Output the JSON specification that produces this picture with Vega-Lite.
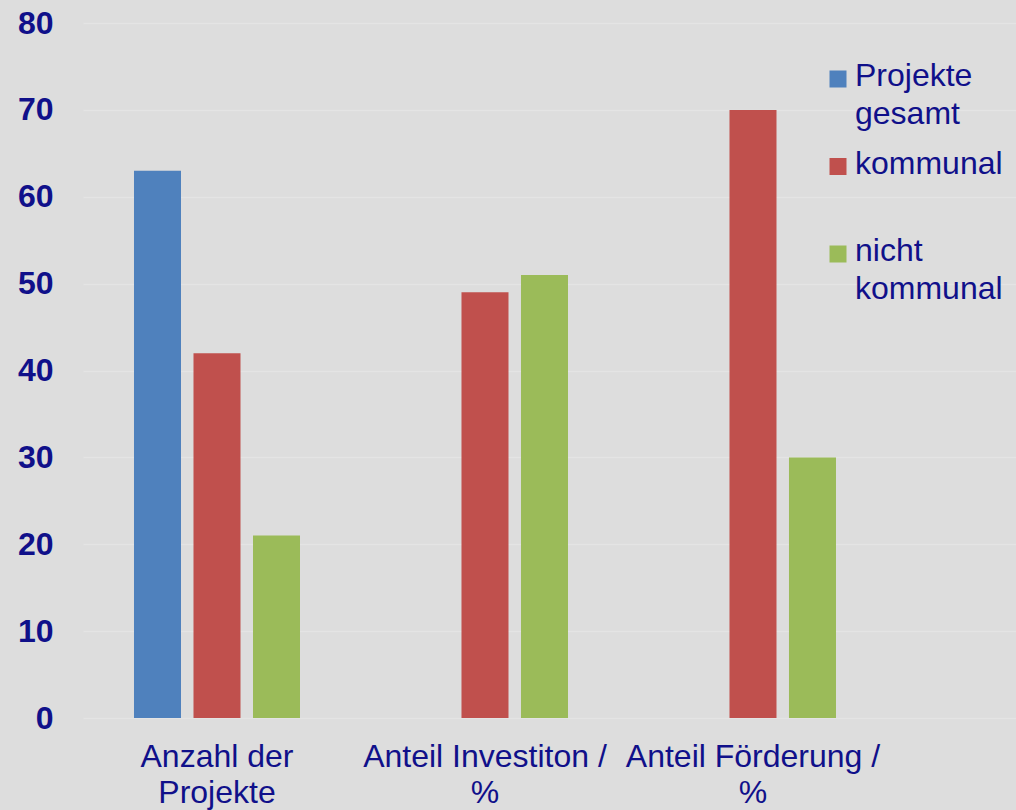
{
  "$schema": "https://vega.github.io/schema/vega-lite/v6.json",
  "width": 933,
  "height": 695,
  "autosize": {"type": "none"},
  "padding": {"left": 83, "top": 23, "right": 0, "bottom": 92},
  "background": "#dddddd",
  "config": {"view": {"stroke": null}, "font": "Liberation Sans"},
  "data": {
    "values": [
      {"kategorie": "Anzahl der|Projekte", "serie": "Projekte gesamt", "wert": 63},
      {"kategorie": "Anzahl der|Projekte", "serie": "kommunal", "wert": 42},
      {"kategorie": "Anzahl der|Projekte", "serie": "nicht kommunal", "wert": 21},
      {"kategorie": "Anteil Investiton /|%", "serie": "kommunal", "wert": 49},
      {"kategorie": "Anteil Investiton /|%", "serie": "nicht kommunal", "wert": 51},
      {"kategorie": "Anteil Förderung /|%", "serie": "kommunal", "wert": 70},
      {"kategorie": "Anteil Förderung /|%", "serie": "nicht kommunal", "wert": 30}
    ]
  },
  "mark": {"type": "bar"},
  "encoding": {
    "x": {
      "field": "kategorie",
      "type": "nominal",
      "sort": null,
      "scale": {"paddingInner": 0, "paddingOuter": 0.2407, "align": 0},
      "axis": {
        "title": null,
        "labelExpr": "split(datum.label, '|')",
        "labelAngle": 0,
        "labelFontSize": 32,
        "labelColor": "#10108a",
        "labelPadding": 23,
        "labelLineHeight": 36,
        "labelOverlap": false,
        "labelLimit": 400,
        "domain": false,
        "ticks": false,
        "grid": false
      }
    },
    "xOffset": {
      "field": "serie",
      "type": "nominal",
      "sort": ["Projekte gesamt", "kommunal", "nicht kommunal"],
      "scale": {"paddingInner": 0.21, "paddingOuter": 0.857}
    },
    "y": {
      "field": "wert",
      "type": "quantitative",
      "scale": {"domain": [0, 80]},
      "axis": {
        "title": null,
        "values": [0, 10, 20, 30, 40, 50, 60, 70, 80],
        "labelFontSize": 32,
        "labelFontWeight": "bold",
        "labelColor": "#10108a",
        "labelPadding": 30,
        "domain": false,
        "ticks": false,
        "gridColor": "#e4e4e4",
        "gridWidth": 1.5
      }
    },
    "color": {
      "field": "serie",
      "type": "nominal",
      "sort": ["Projekte gesamt", "kommunal", "nicht kommunal"],
      "scale": {
        "domain": ["Projekte gesamt", "kommunal", "nicht kommunal"],
        "range": ["#4f81bd", "#c0504d", "#9bbb59"]
      },
      "legend": {
        "title": null,
        "orient": "none",
        "legendX": 739,
        "legendY": 40,
        "padding": 0,
        "symbolType": "square",
        "symbolSize": 289,
        "symbolStrokeWidth": 0,
        "symbolOpacity": 1,
        "labelFontSize": 32,
        "labelColor": "#10108a",
        "labelOffset": 1,
        "labelLimit": 300,
        "rowPadding": 17.5,
        "labelExpr": "datum.label == 'kommunal' ? ['kommunal', ''] : split(datum.label, ' ')",
        "encode": {
          "labels": {"update": {"lineHeight": {"value": 38}, "dy": {"value": -3}}}
        }
      }
    }
  }
}
